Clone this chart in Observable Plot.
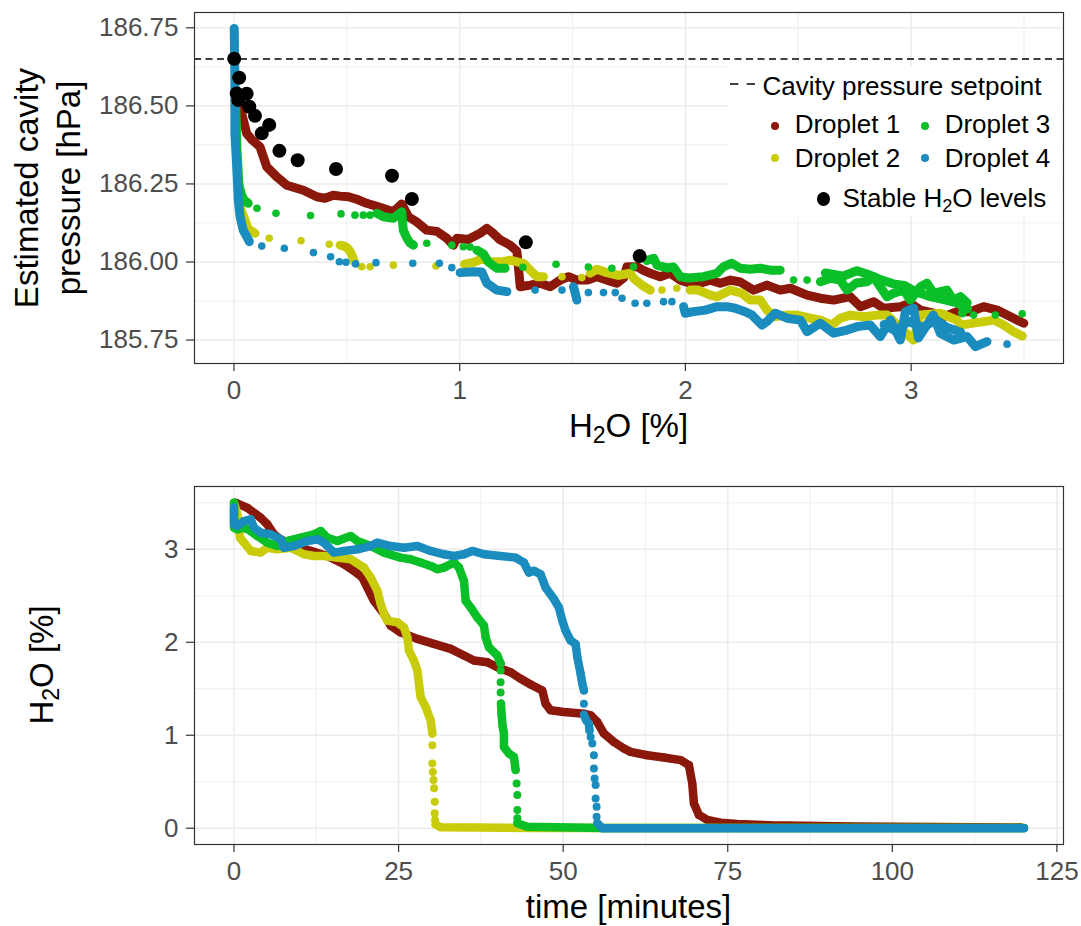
<!DOCTYPE html>
<html><head><meta charset="utf-8">
<script src="https://cdn.jsdelivr.net/npm/d3@7"></script>
<script src="https://cdn.jsdelivr.net/npm/@observablehq/plot@0.6"></script>
<style>
body{margin:0;background:#fff;font-family:"Liberation Sans",Arial,Helvetica,sans-serif;}
#wrap{position:relative;width:1081px;height:926px;overflow:hidden;background:#fff}
.abs{position:absolute;white-space:nowrap;line-height:1}
.title{font-size:33px;color:#000}
.leg{font-size:26px;color:#000}
.sub{font-size:0.7em;position:relative;top:0.28em;line-height:0}
.dot{position:absolute;border-radius:50%}
svg{display:block}
</style></head><body>
<div id="wrap">
  <div id="topPlot" class="abs" style="left:0;top:0"></div>
  <div id="botPlot" class="abs" style="left:0;top:465px"></div>

  <div class="abs title" style="left:25.6px;top:187.7px;transform:translate(-50%,-50%) rotate(-90deg)">Estimated cavity</div>
  <div class="abs title" style="left:67.6px;top:187.7px;transform:translate(-50%,-50%) rotate(-90deg)">pressure [hPa]</div>
  <div class="abs title" style="left:628.5px;top:409px;transform:translateX(-50%)">H<span class="sub">2</span>O [%]</div>
  <div class="abs title" style="left:40.6px;top:665px;transform:translate(-50%,-50%) rotate(-90deg)">H<span class="sub">2</span>O [%]</div>
  <div class="abs title" style="left:628.5px;top:890px;transform:translateX(-50%)">time [minutes]</div>

  <div id="legend" class="abs" style="left:727.5px;top:66px;width:334px;height:150px;background:#fff"></div>
</div>
<script>
// ---------------- data ----------------
const seriesNames = ["Droplet 1", "Droplet 2", "Droplet 3", "Droplet 4"];
const seriesColors = ["#8A180B", "#C9CC0A", "#0ABF28", "#1A8CBD"];
const setpoint = [186.65];

const xTicksTop = [0, 1, 2, 3];
const xMinorTop = [0.5, 1.5, 2.5, 3.5];
const yTicksTop = [185.75, 186.00, 186.25, 186.50, 186.75];
const yMinorTop = [185.875, 186.125, 186.375, 186.625];
const xTicksBot = [0, 25, 50, 75, 100, 125];
const xMinorBot = [12.5, 37.5, 62.5, 87.5, 112.5];
const yTicksBot = [0, 1, 2, 3];
const yMinorBot = [0.5, 1.5, 2.5, 3.5];

// Stable H2O levels: [H2O %, pressure hPa]
const stableLevels = [[0.001,186.651],[0.023,186.590],[0.012,186.540],[0.056,186.539],[0.019,186.519],[0.068,186.497],[0.093,186.468],[0.123,186.412],[0.156,186.439],[0.201,186.356],[0.282,186.326],[0.452,186.298],[0.700,186.276],[0.788,186.202],[1.293,186.063],[1.797,186.019]];

// Top panel: [H2O %, pressure] ; dense runs and isolated points
const d1TopRuns = [[[0.009,186.55],[0.020,186.503],[0.034,186.476],[0.056,186.412],[0.080,186.391],[0.115,186.369],[0.145,186.305],[0.189,186.273],[0.234,186.246],[0.307,186.230],[0.367,186.209],[0.403,186.204],[0.440,186.214],[0.470,186.211],[0.507,186.209],[0.544,186.201],[0.588,186.188],[0.647,186.175],[0.706,186.161],[0.743,186.186],[0.773,186.145],[0.810,186.128],[0.854,186.102],[0.899,186.098],[0.943,186.076],[0.972,186.054],[0.987,186.076],[1.037,186.072],[1.090,186.092],[1.120,186.108],[1.142,186.096],[1.179,186.071],[1.223,186.054],[1.253,186.035],[1.260,185.985],[1.268,185.921],[1.312,185.926],[1.356,185.932],[1.401,185.921],[1.445,185.942],[1.482,185.953],[1.519,185.942],[1.563,185.942],[1.608,185.953],[1.652,185.942],[1.696,185.932],[1.726,185.949],[1.741,185.985],[1.785,185.985],[1.814,185.973],[1.844,185.964],[1.888,185.953],[1.933,185.964],[1.977,185.942],[2.021,185.932],[2.066,185.932],[2.110,185.942],[2.154,185.932],[2.199,185.942],[2.243,185.936],[2.302,185.910],[2.361,185.926],[2.420,185.910],[2.465,185.916],[2.539,185.894],[2.598,185.884],[2.656,185.878],[2.730,185.889],[2.775,185.857],[2.834,185.873],[2.878,185.852],[2.952,185.857],[2.996,185.868],[3.041,185.846],[3.100,185.836],[3.144,185.825],[3.203,185.841],[3.262,185.841],[3.321,185.857],[3.381,185.846],[3.425,185.830],[3.469,185.814],[3.499,185.804]]];
const d1TopDots = [];

const d2TopRuns = [
 [[0.004,186.518],[0.016,186.263],[0.031,186.166],[0.049,186.134],[0.063,186.106],[0.093,186.092]],
 [[0.470,186.054],[0.490,186.050],[0.505,186.043],[0.516,186.032],[0.526,186.015],[0.533,186.001]],
 [[1.021,185.993],[1.061,185.999],[1.105,186.012],[1.135,186.001],[1.194,186.001],[1.223,186.006],[1.282,185.996],[1.312,185.974],[1.342,185.953],[1.371,185.953]],
 [[1.578,185.964],[1.608,185.977],[1.652,185.966],[1.703,185.957],[1.755,185.964],[1.770,185.948],[1.807,185.926],[1.844,185.910]],
 [[2.021,185.910],[2.058,185.910],[2.110,185.894],[2.140,185.889],[2.199,185.910],[2.250,185.900],[2.287,185.878],[2.332,185.878],[2.361,185.846],[2.391,185.825],[2.450,185.830],[2.494,185.830],[2.553,185.820],[2.598,185.814],[2.649,185.798],[2.686,185.820],[2.730,185.830],[2.789,185.825],[2.849,185.830],[2.893,185.830],[2.952,185.789],[3.011,185.750],[3.041,185.830],[3.129,185.836],[3.203,185.814],[3.218,185.798],[3.321,185.809],[3.366,185.814],[3.410,185.798],[3.454,185.777],[3.492,185.763]]
];
const d2TopDots = [[0.156,186.076],[0.297,186.068],[0.422,186.057],[0.566,185.985],[0.603,185.985],[0.706,185.990],[0.895,185.987],[1.453,185.953],[1.541,185.950],[1.896,185.910],[1.962,185.916]];

const d3TopRuns = [
 [[0.007,186.518],[0.013,186.358],[0.022,186.246],[0.034,186.214],[0.044,186.199],[0.063,186.188]],
 [[0.633,186.156],[0.662,186.145],[0.706,186.140],[0.743,186.161],[0.750,186.102],[0.766,186.076],[0.780,186.061],[0.795,186.054]],
 [[1.076,186.038],[1.105,186.026],[1.127,186.000],[1.164,185.980],[1.201,185.980]],
 [[1.829,186.005],[1.859,186.012],[1.874,185.990],[1.918,185.981],[1.947,185.984],[1.977,185.953],[2.014,185.949],[2.080,185.953],[2.140,185.964],[2.169,185.985],[2.206,185.996],[2.243,185.980],[2.287,185.977],[2.332,185.980],[2.376,185.974],[2.420,185.974]],
 [[2.598,185.937],[2.642,185.948],[2.686,185.942],[2.716,185.910],[2.757,185.933],[2.805,185.937],[2.834,185.953],[2.863,185.921],[2.893,185.889],[2.922,185.900],[2.967,185.910],[2.996,185.878],[3.041,185.921],[3.070,185.932],[3.100,185.900],[3.159,185.910],[3.188,185.878],[3.218,185.889],[3.248,185.869],[3.227,185.837]],
 [[2.620,185.965],[2.700,185.955],[2.760,185.972],[2.810,185.960],[2.860,185.945],[2.920,185.930],[2.970,185.925],[3.020,185.905],[3.080,185.890],[3.140,185.880],[3.200,185.870],[3.250,185.850]]
];
const d3TopDots = [[0.102,186.172],[0.186,186.156],[0.339,186.149],[0.474,186.154],[0.536,186.150],[0.573,186.150],[0.603,186.150],[0.854,186.060],[0.965,186.054],[1.016,186.049],[1.046,186.048],[1.280,185.983],[1.427,185.993],[1.570,185.984],[1.674,185.980],[1.770,185.985],[2.479,185.942],[2.539,185.942],[3.277,185.830],[3.373,185.830],[3.492,185.834]];

const d4TopRuns = [
 [[0.001,186.748],[0.004,186.583],[0.004,186.413],[0.012,186.305],[0.019,186.198],[0.027,186.145],[0.041,186.102],[0.068,186.065]],
 [[1.002,185.966],[1.061,185.969],[1.098,185.968],[1.120,185.932],[1.139,185.923],[1.164,185.910],[1.209,185.905]],
 [[1.504,185.921],[1.512,185.900],[1.519,185.878]],
 [[1.992,185.857],[1.999,185.836],[2.036,185.841],[2.088,185.846],[2.140,185.857],[2.184,185.857],[2.221,185.852],[2.265,185.841],[2.295,185.830],[2.317,185.814],[2.339,185.798],[2.361,185.809],[2.398,185.836],[2.450,185.820],[2.509,185.814],[2.539,185.777],[2.597,185.804],[2.656,185.772],[2.716,185.782],[2.760,185.793],[2.819,185.798],[2.863,185.761],[2.908,185.814],[2.952,185.750],[2.974,185.840],[3.011,185.852],[3.032,185.757],[3.070,185.798],[3.098,185.830],[3.129,185.772],[3.188,185.750],[3.248,185.761],[3.285,185.729],[3.336,185.745]],
 [[2.880,185.800],[2.930,185.780],[2.990,185.810],[3.050,185.790],[3.110,185.815],[3.160,185.790],[3.220,185.775]]
];
const d4TopDots = [[0.123,186.051],[0.223,186.044],[0.352,186.030],[0.428,186.017],[0.467,186.001],[0.496,185.999],[0.539,185.994],[0.629,185.998],[0.792,185.996],[0.910,185.996],[0.965,185.982],[1.334,185.910],[1.453,185.910],[1.570,185.902],[1.637,185.902],[1.689,185.902],[1.719,185.884],[1.777,185.868],[1.829,185.868],[1.903,185.873],[1.940,185.873],[3.425,185.737]];

// Bottom panel: [time min, H2O %]
const d1BotRuns = [[[0.3,3.50],[2.03,3.446],[4.05,3.339],[5.07,3.268],[6.07,3.161],[7.09,3.107],[9.11,3.035],[11.65,2.982],[14.18,2.928],[16.70,2.839],[18.22,2.768],[19.50,2.696],[20.26,2.589],[21.26,2.446],[22.78,2.304],[23.80,2.178],[25.31,2.106],[27.85,2.036],[30.37,1.982],[32.91,1.929],[34.93,1.857],[36.45,1.803],[38.48,1.785],[40.00,1.732],[42.02,1.678],[43.54,1.607],[45.06,1.546],[46.83,1.482],[47.33,1.339],[48.09,1.268],[50.11,1.249],[53.15,1.232],[54.17,1.214],[55.19,1.142],[56.19,1.018],[57.71,0.928],[59.23,0.857],[60.24,0.821],[62.78,0.785],[65.30,0.761],[67.84,0.732],[69.10,0.678],[69.61,0.482],[69.86,0.268],[70.61,0.143],[71.89,0.089],[73.91,0.060],[76.45,0.046],[81.50,0.032],[93.65,0.019],[119.5,0.009]]];
const d1BotDots = [];

const d2BotRuns = [
 [[0,3.50],[0.52,3.375],[0.91,3.124],[1.52,3.071],[2.54,2.982],[4.05,2.964],[5.07,3.017],[6.59,3.000],[8.61,3.017],[10.63,2.946],[12.15,2.928],[13.67,2.928],[15.70,2.910],[17.72,2.893],[19.74,2.803],[20.76,2.696],[21.78,2.553],[22.28,2.411],[22.78,2.304],[23.30,2.232],[24.81,2.214],[25.82,2.160],[26.33,2.053],[26.58,1.910],[27.33,1.803],[27.85,1.696],[28.09,1.554],[28.35,1.410],[29.11,1.303],[29.87,1.161],[30.13,1.018]],
 [[30.63,0.040],[31.39,0.011],[45,0.003],[120,0.002]]
];
const d2BotDots = [[30.13,0.893],[30.13,0.696],[30.2,0.606],[30.3,0.518],[30.4,0.429],[30.5,0.285],[30.48,0.161],[30.55,0.089]];

const d3BotRuns = [
 [[0,3.50],[0,3.232],[0.52,3.214],[1.52,3.232],[2.54,3.196],[3.55,3.143],[5.07,3.071],[6.59,3.035],[8.11,3.089],[10.13,3.124],[12.15,3.161],[13.17,3.196],[14.18,3.124],[15.70,3.089],[17.72,3.143],[18.74,3.089],[20.76,3.035],[22.78,2.964],[25.31,2.910],[26.83,2.893],[28.35,2.857],[29.87,2.821],[30.89,2.786],[31.89,2.803],[33.41,2.857],[34.17,2.803],[34.93,2.660],[35.19,2.446],[35.95,2.374],[36.96,2.267],[37.97,2.178],[38.22,2.053],[38.72,1.946],[40.00,1.857],[40.50,1.771]],
 [[40.55,1.34],[40.65,1.22],[40.8,1.10],[41.0,1.018],[41.0,0.874],[41.76,0.804],[42.52,0.767],[42.78,0.625]],
 [[43.04,0.054],[44.55,0.017],[56,0.003],[120,0.002]]
];
const d3BotDots = [[40.50,1.696],[40.50,1.571],[40.50,1.46],[42.93,0.482],[43.04,0.357],[43.04,0.196],[43.04,0.107]];

const d4BotRuns = [
 [[0,3.45],[0,3.268],[0.52,3.250],[1.52,3.303],[2.54,3.322],[3.04,3.232],[4.05,3.178],[5.57,3.161],[7.09,3.107],[7.59,3.017],[9.11,3.035],[11.15,3.089],[12.67,3.107],[13.67,3.071],[15.19,2.964],[16.70,2.982],[18.74,3.000],[20.76,3.035],[21.78,3.071],[23.80,3.035],[25.82,3.017],[27.85,3.035],[29.87,2.982],[31.89,2.946],[33.41,2.928],[34.93,2.946],[36.20,2.982],[37.97,2.946],[40.50,2.928],[42.78,2.910],[44.04,2.857],[44.80,2.749],[45.56,2.768],[46.57,2.732],[47.33,2.589],[48.60,2.464],[49.35,2.374],[49.87,2.232],[50.37,2.125],[51.13,2.018],[51.89,1.982],[52.15,1.839],[52.65,1.661],[52.91,1.554],[53.15,1.482]],
 [[53.15,1.22],[53.5,1.16],[53.91,1.125],[54.0,1.05]],
 [[55.19,0.054],[55.95,0.0],[120,0.0]]
];
const d4BotDots = [[53.15,1.339],[54.17,0.981],[54.43,0.911],[54.67,0.785],[54.67,0.643],[54.78,0.536],[54.93,0.464],[54.93,0.321],[55.08,0.231],[55.08,0.124]];

// ---------------- drawing ----------------
const FONT = '"Liberation Sans", Arial, Helvetica, sans-serif';
const series = [
  {name: seriesNames[0], color: seriesColors[0], topRuns: d1TopRuns, topDots: d1TopDots, botRuns: d1BotRuns, botDots: d1BotDots},
  {name: seriesNames[1], color: seriesColors[1], topRuns: d2TopRuns, topDots: d2TopDots, botRuns: d2BotRuns, botDots: d2BotDots},
  {name: seriesNames[2], color: seriesColors[2], topRuns: d3TopRuns, topDots: d3TopDots, botRuns: d3BotRuns, botDots: d3BotDots},
  {name: seriesNames[3], color: seriesColors[3], topRuns: d4TopRuns, topDots: d4TopDots, botRuns: d4BotRuns, botDots: d4BotDots}
];
const flatRuns = runs => runs.flatMap((r, i) => r.map(([x, y]) => ({x, y, run: i})));
const pts = arr => arr.map(([x, y]) => ({x, y}));

function seriesMarks(runsKey, dotsKey, sw, r) {
  return series.flatMap(s => {
    const runData = flatRuns(s[runsKey]);
    return [
      Plot.line(runData, {x: "x", y: "y", z: "run", stroke: s.color, strokeWidth: sw, strokeLinecap: "round", strokeLinejoin: "round"}),
      Plot.dot(runData.concat(pts(s[dotsKey])), {x: "x", y: "y", r, fill: s.color, stroke: "none"})
    ];
  });
}

function frameMarks(xMinor, yMinor, xMajor, yMajor) {
  return [
    Plot.gridX(xMinor, {stroke: "#EBEBEB", strokeOpacity: 1, strokeWidth: 0.8}),
    Plot.gridY(yMinor, {stroke: "#EBEBEB", strokeOpacity: 1, strokeWidth: 0.8}),
    Plot.gridX(xMajor, {stroke: "#EBEBEB", strokeOpacity: 1, strokeWidth: 1.5}),
    Plot.gridY(yMajor, {stroke: "#EBEBEB", strokeOpacity: 1, strokeWidth: 1.5})
  ];
}
function axisMarks(xMajor, yMajor, xFmt, yFmt) {
  return [
    Plot.axisX(xMajor, {tickSize: 8, tickPadding: 9, fontSize: 26, fill: "#4D4D4D", stroke: "#333333", strokeWidth: 1.2, label: null, tickFormat: xFmt}),
    Plot.axisY(yMajor, {tickSize: 8, tickPadding: 8, fontSize: 26, fill: "#4D4D4D", stroke: "#333333", strokeWidth: 1.2, label: null, tickFormat: yFmt})
  ];
}

const topPlot = Plot.plot({
  width: 1081, height: 465,
  marginLeft: 194, marginRight: 18, marginTop: 12, marginBottom: 102,
  style: {fontFamily: FONT, background: "#fff"},
  x: {domain: [-0.175, 3.675]},
  y: {domain: [185.675, 186.799]},
  marks: [
    ...frameMarks(xMinorTop, yMinorTop, xTicksTop, yTicksTop),
    Plot.ruleY(setpoint, {stroke: "#000", strokeWidth: 1.6, strokeDasharray: "7,4.5"}),
    ...seriesMarks("topRuns", "topDots", 9, 3.8),
    Plot.dot(pts(stableLevels), {x: "x", y: "y", r: 7, fill: "#000", stroke: "none"}),
    Plot.frame({stroke: "#333333", strokeWidth: 1.2}),
    ...axisMarks(xTicksTop, yTicksTop, d3.format("d"), d3.format(".2f"))
  ]
});
document.getElementById("topPlot").appendChild(topPlot);

const botPlot = Plot.plot({
  width: 1081, height: 461,
  marginLeft: 194, marginRight: 18, marginTop: 21, marginBottom: 82,
  style: {fontFamily: FONT, background: "#fff"},
  x: {domain: [-6, 126]},
  y: {domain: [-0.175, 3.675]},
  marks: [
    ...frameMarks(xMinorBot, yMinorBot, xTicksBot, yTicksBot),
    ...seriesMarks("botRuns", "botDots", 8.5, 4),
    Plot.frame({stroke: "#333333", strokeWidth: 1.2}),
    ...axisMarks(xTicksBot, yTicksBot, d3.format("d"), d3.format("d"))
  ]
});
document.getElementById("botPlot").appendChild(botPlot);

// ---------------- legend (HTML) ----------------
const legend = document.getElementById("legend");
const L = 727.5, T = 66; // legend box origin, used to place items relative to it
function addText(html, left, baseline) {
  const d = document.createElement("div");
  d.className = "abs leg";
  d.style.left = (left - L) + "px";
  d.style.top = (baseline - 22 - T) + "px";
  d.innerHTML = html;
  legend.appendChild(d);
}
function addDot(cx, cy, r, color) {
  const d = document.createElement("div");
  d.className = "dot";
  d.style.left = (cx - r - L) + "px";
  d.style.top = (cy - r - T) + "px";
  d.style.width = d.style.height = (2 * r) + "px";
  d.style.background = color;
  legend.appendChild(d);
}
// dashed key
const key = document.createElementNS("http://www.w3.org/2000/svg", "svg");
key.setAttribute("width", "30"); key.setAttribute("height", "6");
key.style.position = "absolute"; key.style.left = (729 - L) + "px"; key.style.top = (80.5 - T) + "px";
key.innerHTML = '<line x1="1" x2="26" y1="3" y2="3" stroke="#000" stroke-width="1.5" stroke-dasharray="8.3,8.4"/>';
legend.appendChild(key);
addText("Cavity pressure setpoint", 762.5, 95);
addDot(775, 126, 3.9, seriesColors[0]); addText(seriesNames[0], 794.7, 133.3);
addDot(925, 126, 3.9, seriesColors[2]); addText(seriesNames[2], 944.7, 133.3);
addDot(775, 158.3, 3.9, seriesColors[1]); addText(seriesNames[1], 794.7, 166.7);
addDot(925, 158.3, 3.9, seriesColors[3]); addText(seriesNames[3], 944.7, 166.7);
addDot(823.3, 199, 6.8, "#000"); addText('Stable H<span class="sub">2</span>O levels', 842.5, 206.7);
</script>
</body></html>
